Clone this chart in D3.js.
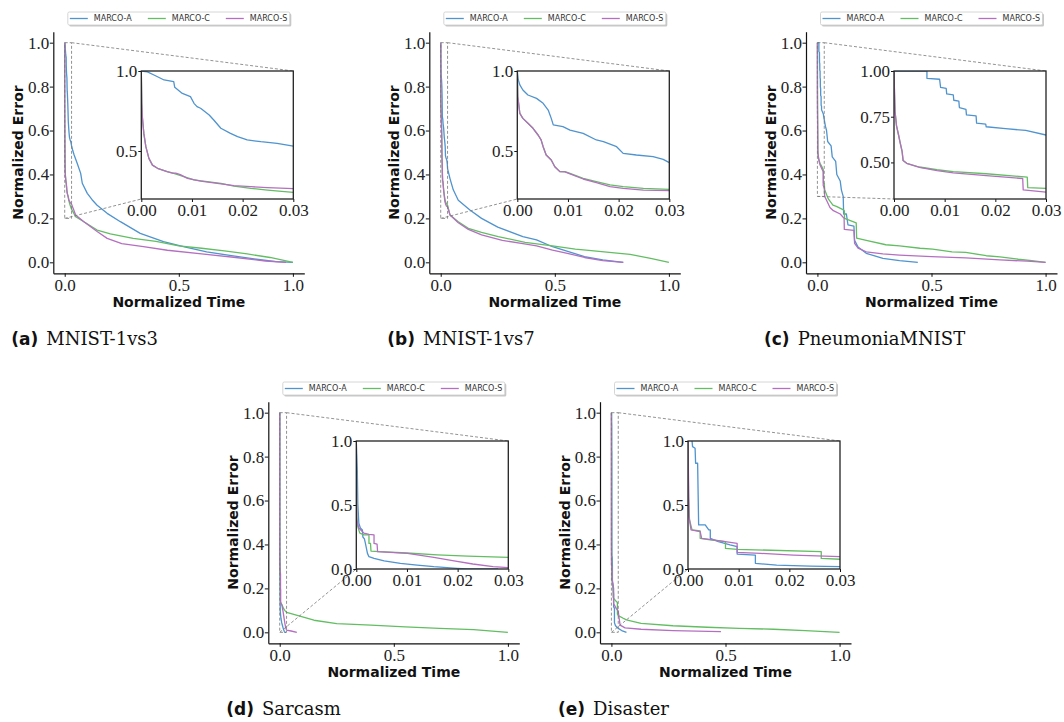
<!DOCTYPE html>
<html>
<head>
<meta charset="utf-8">
<script src="https://cdn.jsdelivr.net/npm/d3@7"></script>
<style>
  body { margin: 0; background: #fff; }
</style>
</head>
<body>
<svg id="chart" width="1064" height="722"></svg>
<script>
// ---- data: [normalized time, normalized error] ----
const seriesNames = ["MARCO-A", "MARCO-C", "MARCO-S"];
const panelTags = ["(a)", "(b)", "(c)", "(d)", "(e)"];
const panelNames = ["MNIST-1vs3", "MNIST-1vs7", "PneumoniaMNIST", "Sarcasm", "Disaster"];
const mainXTicks = [0, 0.5, 1];
const mainYTicks = [0, 0.2, 0.4, 0.6, 0.8, 1];
const insetXTicks = [0, 0.01, 0.02, 0.03];
const insetYLow = [0.2, 0.2, 0.3, 0, 0];
const insetYTicks = [[0.5, 1], [0.5, 1], [0.5, 0.75, 1], [0, 0.5, 1], [0, 0.5, 1]];
const insetYFormat = [".1f", ".1f", ".2f", ".1f", ".1f"];

const mnist13A = [[0,1],[0.0012,0.995],[0.0025,0.975],[0.0045,0.944],[0.0064,0.933],[0.0066,0.898],[0.0081,0.86],[0.0097,0.84],[0.0104,0.798],[0.011,0.777],[0.0117,0.767],[0.0134,0.725],[0.0143,0.694],[0.0157,0.642],[0.0176,0.61],[0.019,0.59],[0.0209,0.569],[0.0236,0.558],[0.0268,0.548],[0.03,0.531],
  [0.035,0.51],[0.041,0.49],[0.055,0.45],[0.07,0.405],[0.077,0.36],[0.099,0.314],[0.12,0.285],[0.142,0.26],[0.186,0.223],[0.244,0.185],[0.331,0.132],[0.433,0.094],[0.52,0.071],[0.622,0.048],[0.738,0.029],[0.84,0.014],[0.927,0.003],[1,0]];
const mnist13C = [[0,1],[0.0001,0.8],[0.0002,0.715],[0.0005,0.61],[0.0009,0.527],[0.0015,0.454],[0.0022,0.412],[0.0032,0.392],[0.0051,0.371],[0.0064,0.36],[0.0084,0.34],[0.0104,0.319],[0.013,0.308],[0.0157,0.298],[0.0183,0.281],[0.0216,0.267],[0.0249,0.256],[0.03,0.242],
  [0.048,0.208],[0.084,0.185],[0.142,0.147],[0.2,0.129],[0.3,0.109],[0.4,0.095],[0.5,0.075],[0.6,0.064],[0.7,0.052],[0.8,0.038],[0.9,0.022],[1,0]];
const mnist13S = [[0,1],[0.0001,0.8],[0.0002,0.715],[0.0005,0.61],[0.0009,0.527],[0.0015,0.454],[0.0022,0.412],[0.0032,0.392],[0.0051,0.371],[0.0062,0.362],[0.0068,0.362],[0.0077,0.352],[0.0091,0.329],[0.0117,0.312],[0.015,0.298],[0.0183,0.283],[0.0216,0.277],[0.0249,0.271],[0.03,0.265],
  [0.048,0.215],[0.084,0.185],[0.142,0.14],[0.186,0.109],[0.25,0.085],[0.345,0.071],[0.45,0.055],[0.6,0.038],[0.74,0.023],[0.88,0.006],[0.97,0]];

const mnist17A = [[0,1],[0.0002,0.944],[0.0005,0.913],[0.0011,0.881],[0.0021,0.85],[0.0038,0.829],[0.0051,0.798],[0.0061,0.756],[0.0067,0.704],[0.0071,0.663],[0.009,0.652],[0.0104,0.631],[0.013,0.61],[0.0156,0.569],[0.017,0.558],[0.0196,0.527],[0.0209,0.485],[0.0235,0.475],[0.0268,0.465],[0.0288,0.448],[0.03,0.427],
  [0.041,0.38],[0.055,0.33],[0.077,0.283],[0.128,0.238],[0.179,0.2],[0.25,0.16],[0.36,0.117],[0.42,0.102],[0.49,0.071],[0.56,0.049],[0.63,0.026],[0.71,0.011],[0.8,0]];
const mnist17C = [[0,1],[0.0001,0.84],[0.0005,0.735],[0.0011,0.704],[0.0021,0.673],[0.0031,0.642],[0.0041,0.6],[0.0047,0.569],[0.0051,0.527],[0.0057,0.475],[0.0067,0.444],[0.0074,0.402],[0.0084,0.371],[0.0094,0.371],[0.0104,0.36],[0.013,0.329],[0.0156,0.308],[0.0183,0.288],[0.0209,0.277],[0.0249,0.267],[0.03,0.26],
  [0.041,0.215],[0.077,0.185],[0.121,0.155],[0.179,0.136],[0.252,0.117],[0.37,0.091],[0.49,0.075],[0.59,0.06],[0.66,0.053],[0.75,0.044],[0.83,0.036],[0.92,0.018],[1,0]];
const mnist17S = [[0,1],[0.0001,0.84],[0.0005,0.735],[0.0011,0.704],[0.0021,0.673],[0.0031,0.642],[0.0041,0.6],[0.0047,0.569],[0.0051,0.527],[0.0057,0.475],[0.0067,0.444],[0.0074,0.402],[0.0084,0.371],[0.0094,0.369],[0.0104,0.357],[0.013,0.325],[0.0156,0.302],[0.0183,0.277],[0.0209,0.267],[0.0249,0.256],[0.03,0.252],
  [0.041,0.215],[0.077,0.18],[0.121,0.15],[0.179,0.125],[0.27,0.1],[0.36,0.085],[0.42,0.075],[0.49,0.056],[0.56,0.04],[0.63,0.022],[0.71,0.008],[0.8,0]];

const pneuA = [[0,1],[0.0065,1],[0.0065,0.96],[0.009,0.955],[0.0092,0.91],[0.0103,0.905],[0.0104,0.875],[0.0117,0.87],[0.0118,0.84],[0.0128,0.835],[0.0129,0.8],[0.0142,0.79],[0.0143,0.76],[0.0162,0.755],[0.0163,0.715],[0.0181,0.71],[0.0182,0.695],[0.022,0.685],[0.026,0.675],[0.03,0.65],
  [0.035,0.62],[0.04,0.6],[0.045,0.55],[0.06,0.53],[0.065,0.48],[0.08,0.46],[0.085,0.4],[0.1,0.37],[0.105,0.33],[0.113,0.3],[0.115,0.22],[0.127,0.22],[0.134,0.17],[0.16,0.165],[0.163,0.1],[0.178,0.07],[0.214,0.041],[0.287,0.018],[0.36,0.008],[0.44,0]];
const pneuC = [[0,1],[0.0001,0.88],[0.0002,0.78],[0.0005,0.7],[0.0009,0.65],[0.0012,0.61],[0.0016,0.56],[0.0018,0.51],[0.0025,0.495],[0.005,0.475],[0.0085,0.46],[0.0117,0.45],[0.0182,0.438],[0.0263,0.42],[0.0264,0.362],[0.03,0.358],
  [0.032,0.33],[0.047,0.29],[0.068,0.26],[0.083,0.255],[0.112,0.24],[0.118,0.235],[0.119,0.2],[0.17,0.18],[0.172,0.11],[0.214,0.1],[0.3,0.08],[0.36,0.075],[0.45,0.064],[0.505,0.06],[0.59,0.048],[0.65,0.045],[0.74,0.03],[0.8,0.025],[0.88,0.014],[0.94,0.008],[1,0]];
const pneuS = [[0,1],[0.0001,0.88],[0.0002,0.78],[0.0005,0.7],[0.0009,0.65],[0.0012,0.61],[0.0016,0.56],[0.0018,0.51],[0.0025,0.495],[0.005,0.473],[0.0085,0.455],[0.0117,0.443],[0.0182,0.428],[0.0254,0.412],[0.0255,0.35],[0.03,0.338],
  [0.032,0.3],[0.04,0.283],[0.055,0.25],[0.07,0.235],[0.1,0.22],[0.117,0.2],[0.118,0.15],[0.16,0.145],[0.163,0.086],[0.178,0.065],[0.214,0.048],[0.287,0.038],[0.36,0.033],[0.5,0.026],[0.65,0.02],[0.8,0.011],[0.92,0.005],[1,0]];

const sarcA = [[0,1],[0.0002,0.77],[0.0003,0.51],[0.0005,0.357],[0.0008,0.32],[0.0012,0.305],[0.0013,0.25],[0.0016,0.235],[0.0018,0.2],[0.0022,0.122],[0.0025,0.096],[0.0035,0.083],[0.0055,0.063],[0.0087,0.044],[0.012,0.031],[0.0153,0.018],[0.0199,0.005],[0.022,0],[0.028,0]];
const sarcC = [[0,1],[0.0001,0.41],[0.0003,0.33],[0.0007,0.28],[0.0015,0.266],[0.0025,0.266],[0.0025,0.2],[0.0028,0.2],[0.0029,0.14],[0.0045,0.135],[0.01,0.125],[0.016,0.11],[0.022,0.1],[0.03,0.091],
  [0.05,0.085],[0.1,0.07],[0.15,0.055],[0.25,0.04],[0.4,0.033],[0.55,0.025],[0.7,0.018],[0.85,0.012],[1,0]];
const sarcS = [[0,1],[0.0001,0.38],[0.0005,0.32],[0.0015,0.28],[0.0025,0.27],[0.0035,0.266],[0.0035,0.2],[0.0041,0.195],[0.0042,0.135],[0.0101,0.122],[0.0153,0.091],[0.019,0.065],[0.023,0.039],[0.027,0.018],[0.03,0.01],
  [0.05,0.006],[0.075,0]];

const disA = [[0.0008,1],[0.0009,0.956],[0.0014,0.943],[0.0015,0.826],[0.0019,0.826],[0.0021,0.344],[0.0034,0.344],[0.0041,0.305],[0.0044,0.305],[0.0044,0.24],[0.006,0.214],[0.0083,0.188],[0.0097,0.174],[0.0097,0.117],[0.0133,0.109],[0.0133,0.044],[0.0175,0.031],[0.0241,0.023],[0.03,0.018],
  [0.045,0.008],[0.066,0]];
const disC = [[0,1],[0.0001,0.565],[0.0003,0.383],[0.0008,0.305],[0.0024,0.297],[0.0024,0.24],[0.0044,0.227],[0.0074,0.214],[0.0074,0.161],[0.0097,0.154],[0.0263,0.135],[0.0263,0.083],[0.03,0.076],
  [0.05,0.065],[0.07,0.055],[0.13,0.041],[0.27,0.03],[0.42,0.023],[0.56,0.018],[0.71,0.014],[0.85,0.008],[1,0]];
const disS = [[0,1],[0.0002,0.41],[0.0006,0.305],[0.0024,0.292],[0.0027,0.24],[0.005,0.227],[0.0097,0.2],[0.0097,0.13],[0.0143,0.122],[0.0208,0.109],[0.03,0.096],
  [0.033,0.07],[0.038,0.033],[0.06,0.02],[0.13,0.014],[0.27,0.008],[0.48,0.003]];

const panelSeries = [
  [mnist13A, mnist13C, mnist13S],
  [mnist17A, mnist17C, mnist17S],
  [pneuA, pneuC, pneuS],
  [sarcA, sarcC, sarcS],
  [disA, disC, disS]
];

// ---- layout / style ----
const colors = ["#4f93cf", "#63bd63", "#b46fc0"];
const panelPos = [[53.3, 31.7], [429.3, 31.7], [806, 31.7], [268.3, 401.7], [600, 401.7]];
const W = 251, H = 241.6;
const tickFont = "'Liberation Serif', 'Times New Roman', serif";
const sansBold = "'DejaVu Sans', sans-serif";

const svg = d3.select("#chart");

function styleAxis(g) {
  g.select(".domain").attr("stroke", "#111").attr("stroke-width", 1.2);
  g.selectAll(".tick line").attr("stroke", "#111").attr("stroke-width", 1);
  g.selectAll(".tick text")
    .attr("font-family", tickFont)
    .attr("font-size", 17)
    .attr("fill", "#222");
}

panelSeries.forEach(function(series, p) {
  const left = panelPos[p][0], top = panelPos[p][1];
  const g = svg.append("g").attr("transform", `translate(${left},${top})`);

  const x = d3.scaleLinear().domain([-0.05, 1.05]).range([0, W]);
  const y = d3.scaleLinear().domain([-0.05, 1.05]).range([H, 0]);
  const line = d3.line().x(d => x(d[0])).y(d => y(d[1]));

  // main curves
  series.forEach(function(s, i) {
    g.append("path")
      .datum(s)
      .attr("fill", "none")
      .attr("stroke", colors[i])
      .attr("stroke-width", 1.3)
      .attr("stroke-linejoin", "round")
      .attr("d", line);
  });

  // axes (left + bottom spines only)
  const xAxis = g.append("g")
    .attr("transform", `translate(0,${H})`)
    .call(d3.axisBottom(x).tickValues(mainXTicks).tickFormat(d3.format(".1f"))
      .tickSize(3.5).tickSizeOuter(0).tickPadding(2));
  styleAxis(xAxis);
  const yAxis = g.append("g")
    .call(d3.axisLeft(y).tickValues(mainYTicks).tickFormat(d3.format(".1f"))
      .tickSize(3.5).tickSizeOuter(0).tickPadding(0.5));
  styleAxis(yAxis);

  g.append("text")
    .attr("x", W / 2).attr("y", H + 34)
    .attr("text-anchor", "middle")
    .attr("font-family", sansBold).attr("font-weight", "bold").attr("font-size", 14)
    .attr("fill", "#111")
    .text("Normalized Time");
  g.append("text")
    .attr("transform", `translate(-30,${H / 2}) rotate(-90)`)
    .attr("text-anchor", "middle")
    .attr("font-family", sansBold).attr("font-weight", "bold").attr("font-size", 14)
    .attr("fill", "#111")
    .text("Normalized Error");

  // zoom rectangle + connectors
  const yLow = insetYLow[p];
  const insL = 88, insR = 240, insT = 39.3, insB = 167.3;
  const dash = g => g.attr("fill", "none").attr("stroke", "#777")
    .attr("stroke-width", 0.8).attr("stroke-dasharray", "3,2");
  g.append("rect")
    .attr("x", x(0)).attr("y", y(1))
    .attr("width", x(0.03) - x(0)).attr("height", y(yLow) - y(1))
    .call(dash);
  g.append("line")
    .attr("x1", x(0.03)).attr("y1", y(1)).attr("x2", insR).attr("y2", insT)
    .call(dash);
  g.append("line")
    .attr("x1", x(0)).attr("y1", y(yLow)).attr("x2", insL).attr("y2", insB)
    .call(dash);

  // inset
  const ix = d3.scaleLinear().domain([0, 0.03]).range([insL, insR]);
  const iy = d3.scaleLinear().domain([yLow, 1]).range([insB, insT]);
  const iline = d3.line().x(d => ix(d[0])).y(d => iy(d[1]));
  const clipId = "clip" + p;
  g.append("clipPath").attr("id", clipId)
    .append("rect").attr("x", insL).attr("y", insT)
    .attr("width", insR - insL).attr("height", insB - insT);
  g.append("rect")
    .attr("x", insL).attr("y", insT)
    .attr("width", insR - insL).attr("height", insB - insT)
    .attr("fill", "#fff");
  const ig = g.append("g").attr("clip-path", `url(#${clipId})`);
  series.forEach(function(s, i) {
    ig.append("path")
      .datum(s)
      .attr("fill", "none")
      .attr("stroke", colors[i])
      .attr("stroke-width", 1.3)
      .attr("stroke-linejoin", "round")
      .attr("d", iline);
  });
  const ixAxis = g.append("g")
    .attr("transform", `translate(0,${insB})`)
    .call(d3.axisBottom(ix).tickValues(insetXTicks).tickFormat(d3.format(".2f"))
      .tickSize(3).tickSizeOuter(0).tickPadding(2));
  styleAxis(ixAxis);
  const iyAxis = g.append("g")
    .attr("transform", `translate(${insL},0)`)
    .call(d3.axisLeft(iy).tickValues(insetYTicks[p]).tickFormat(d3.format(insetYFormat[p]))
      .tickSize(3).tickSizeOuter(0).tickPadding(1));
  styleAxis(iyAxis);
  ixAxis.select(".domain").remove();
  iyAxis.select(".domain").remove();
  g.append("rect")
    .attr("x", insL).attr("y", insT)
    .attr("width", insR - insL).attr("height", insB - insT)
    .attr("fill", "none").attr("stroke", "#222").attr("stroke-width", 1.3);

  // legend
  const lw = 222, lh = 13;
  const lg = g.append("g").attr("transform", `translate(${W / 2 - lw / 2},-19.7)`);
  lg.append("rect").attr("x", 1.5).attr("y", 1.5).attr("width", lw).attr("height", lh)
    .attr("rx", 1.5).attr("fill", "#999").attr("opacity", 0.55);
  lg.append("rect").attr("width", lw).attr("height", lh).attr("rx", 1.5)
    .attr("fill", "#fff").attr("stroke", "#ccc").attr("stroke-width", 0.8);
  const item = lg.selectAll("g.item").data(seriesNames).enter().append("g")
    .attr("class", "item")
    .attr("transform", (d, i) => `translate(${2 + i * 78},0)`);
  item.append("line")
    .attr("x1", 0).attr("x2", 18).attr("y1", lh / 2).attr("y2", lh / 2)
    .attr("stroke", (d, i) => colors[i]).attr("stroke-width", 1.3);
  item.append("text")
    .attr("x", 24).attr("y", lh / 2 + 2.8)
    .attr("font-family", "'DejaVu Sans', sans-serif").attr("font-size", 8)
    .attr("fill", "#333")
    .text(d => d);

  // caption
  const cap = g.append("text")
    .attr("x", -42).attr("y", H + 72)
    .attr("fill", "#111");
  cap.append("tspan")
    .attr("font-family", sansBold).attr("font-weight", "bold").attr("font-size", 17)
    .text(panelTags[p]);
  cap.append("tspan")
    .attr("dx", 8)
    .attr("font-family", "'DejaVu Serif', serif").attr("font-size", 18)
    .text(panelNames[p]);
});
</script>
</body>
</html>
